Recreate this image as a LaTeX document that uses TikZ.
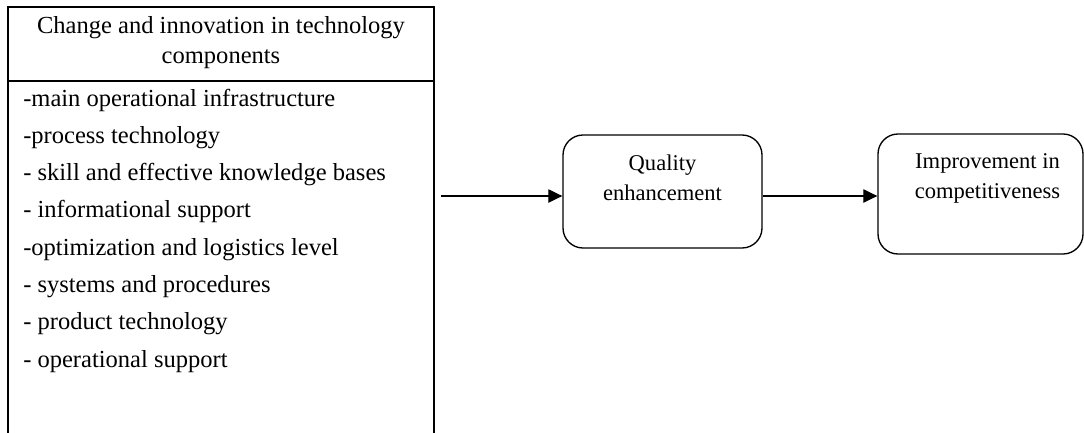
\documentclass[tikz,border=0pt]{standalone}
\usepackage{fontspec}
\setmainfont{Liberation Serif}
\usetikzlibrary{arrows.meta}
\begin{document}
\begin{tikzpicture}[x=0.75pt,y=-0.75pt,
  framebox/.style={line width=1.4pt},
  headtext/.style={align=center,inner sep=0pt,font=\fontsize{18.4}{22.5}\selectfont},
  itemtext/.style={anchor=base west,inner sep=0pt,font=\fontsize{18.4}{22.5}\selectfont},
  rbox/.style={draw,line width=1pt,rounded corners=15pt,inner sep=0pt},
  rtext/.style={align=center,inner sep=0pt,font=\fontsize{16.9}{22.5}\selectfont},
  arr/.style={line width=0.9pt,-{Triangle[length=10.5pt,width=10pt]}}]
\useasboundingbox (0,0) rectangle (1084,432);
% left frame
\draw[framebox] (8,440) -- (8,7) -- (434,7) -- (434,440);
\draw[framebox] (8,81) -- (434,81);
\node[headtext] (head) at (221,43) {Change and innovation in technology\\components};
\foreach \t [count=\i from 0] in {-main operational infrastructure,
  -process technology,
  - skill and effective knowledge bases,
  - informational support,
  -optimization and logistics level,
  - systems and procedures,
  - product technology,
  - operational support}
  \node[itemtext] (l\i) at (23,{106+37.3*\i}) {\t};
% rounded boxes
\node[rbox,minimum width=149.25pt,minimum height=84.75pt] (q) at (662.5,191.5) {};
\node[rtext] (qt) at (662.5,178) {Quality\\enhancement};
\node[rbox,minimum width=153.75pt,minimum height=90pt] (c) at (980.5,194) {};
\node[rtext] (ct) at (987.5,178) {Improvement in\\competitiveness};
% arrows
\coordinate (src) at (441,196);
\draw[arr] (src) -- (q.west |- src);
\draw[arr] (q.east |- src) -- (c.west |- src);
\end{tikzpicture}
\end{document}
